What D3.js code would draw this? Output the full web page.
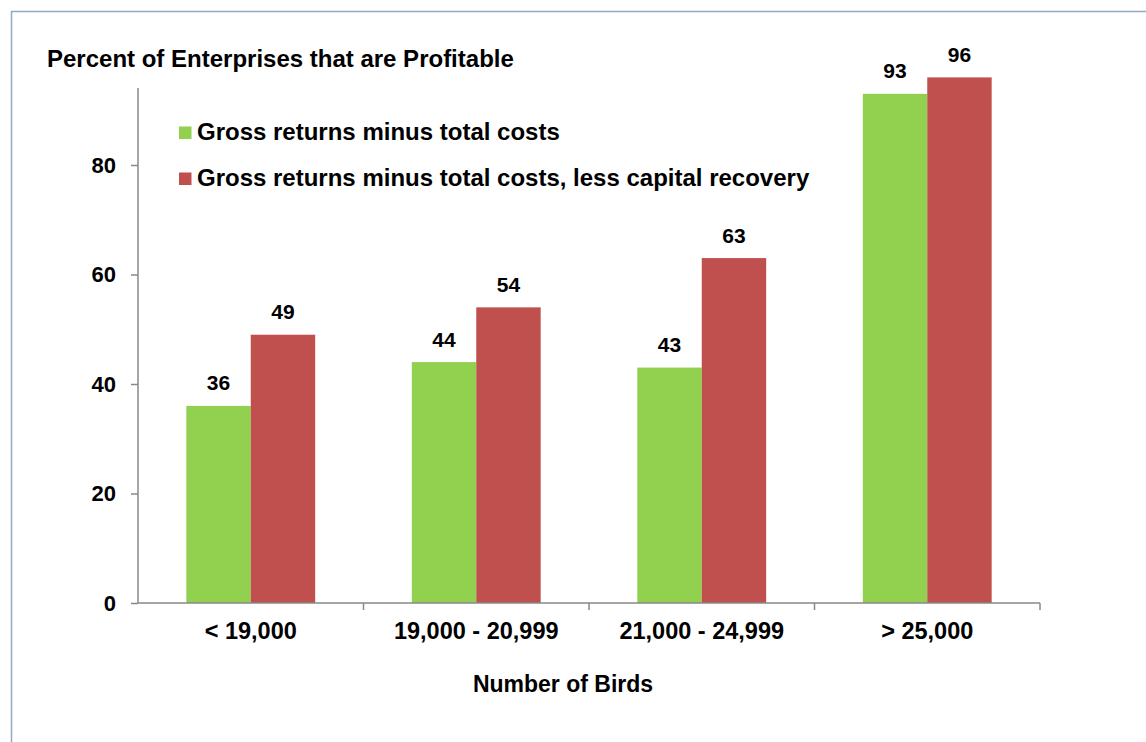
<!DOCTYPE html>
<html>
<head>
<meta charset="utf-8">
<script src="https://cdn.jsdelivr.net/npm/d3@7"></script>
<style>
  body { margin: 0; background: #fff; }
  text { font-family: 'Liberation Sans', Arial, sans-serif; font-weight: bold; fill: #000; }
</style>
</head>
<body>
<div id="chart"></div>
<script>
const categories = ['< 19,000', '19,000 - 20,999', '21,000 - 24,999', '> 25,000'];
const seriesNames = ['Gross returns minus total costs', 'Gross returns minus total costs, less capital recovery'];
const totalCosts = [36, 44, 43, 93];
const lessCapital = [49, 54, 63, 96];
const yTicks = [0, 20, 40, 60, 80];
const colors = ['#92D050', '#C0504D'];

const width = 1146;
const height = 742;
const margin = { top: 55.5, right: 106, bottom: 139, left: 138 };

const svg = d3.select('#chart')
  .append('svg')
  .attr('width', width)
  .attr('height', height);

// outer frame (runs off the right and bottom edge)
svg.append('rect')
  .attr('x', 11.5).attr('y', 11.5)
  .attr('width', width).attr('height', height)
  .attr('fill', 'none')
  .attr('stroke', '#93A9C8')
  .attr('stroke-width', 1.5);

const x = d3.scaleBand()
  .domain(categories)
  .range([margin.left, width - margin.right]);

const y = d3.scaleLinear()
  .domain([0, 100])
  .range([height - margin.bottom, margin.top]);

const inner = d3.scaleBand()
  .domain([0, 1])
  .range([0, x.bandwidth()])
  .paddingOuter(0.75)
  .paddingInner(0);

const data = categories.map((c, i) => ({ cat: c, values: [totalCosts[i], lessCapital[i]] }));

const groups = svg.selectAll('.group')
  .data(data)
  .enter()
  .append('g')
  .attr('transform', d => `translate(${x(d.cat)},0)`);

groups.selectAll('rect')
  .data(d => d.values)
  .enter()
  .append('rect')
  .attr('x', (d, i) => inner(i))
  .attr('y', d => y(d))
  .attr('width', inner.bandwidth())
  .attr('height', d => y(0) - y(d))
  .attr('fill', (d, i) => colors[i]);

groups.selectAll('.val')
  .data(d => d.values)
  .enter()
  .append('text')
  .attr('class', 'val')
  .attr('x', (d, i) => inner(i) + inner.bandwidth() / 2)
  .attr('y', d => y(d) - 15.5)
  .attr('text-anchor', 'middle')
  .style('font-size', '21px')
  .text(d => d);

// y axis
const yAxis = svg.append('g')
  .attr('transform', `translate(${margin.left},0)`)
  .call(d3.axisLeft(y).tickValues(yTicks).tickSize(7).tickPadding(15));
yAxis.select('.domain')
  .attr('d', `M0,${y(0)}V${88}`);
yAxis.selectAll('.tick text').style('font-size', '22px');

// x axis
const xAxis = svg.append('g')
  .attr('transform', `translate(0,${y(0)})`)
  .call(d3.axisBottom(x).tickSize(0).tickPadding(19));
xAxis.select('.domain').attr('d', `M${margin.left},0H${width - margin.right}`);
xAxis.selectAll('.tick text').style('font-size', '23.5px');

xAxis.selectAll('.sep')
  .data(categories)
  .enter()
  .append('line')
  .attr('class', 'sep')
  .attr('x1', d => x(d) + x.bandwidth())
  .attr('x2', d => x(d) + x.bandwidth())
  .attr('y1', 0)
  .attr('y2', 7)
  .attr('stroke', '#888');

svg.selectAll('.domain, .tick line, .sep')
  .attr('stroke', '#888')
  .attr('stroke-width', 1.5);
svg.selectAll('.tick text')
  .style('font-family', "'Liberation Sans', Arial, sans-serif")
  .style('font-weight', 'bold')
  .attr('fill', '#000');

// titles
svg.append('text')
  .attr('x', 47).attr('y', 67)
  .style('font-size', '24px')
  .text('Percent of Enterprises that are Profitable');

svg.append('text')
  .attr('x', 563)
  .attr('y', 692)
  .attr('text-anchor', 'middle')
  .style('font-size', '23px')
  .text('Number of Birds');

// legend
const legend = svg.append('g')
  .attr('transform', 'translate(179,132.5)');
const items = legend.selectAll('g')
  .data(seriesNames)
  .enter()
  .append('g')
  .attr('transform', (d, i) => `translate(0,${i * 46})`);
items.append('rect')
  .attr('x', 0).attr('y', -6)
  .attr('width', 12.5).attr('height', 12.5)
  .attr('fill', (d, i) => colors[i]);
items.append('text')
  .attr('x', 18).attr('y', 7.5)
  .style('font-size', '24px')
  .text(d => d);
</script>
</body>
</html>
